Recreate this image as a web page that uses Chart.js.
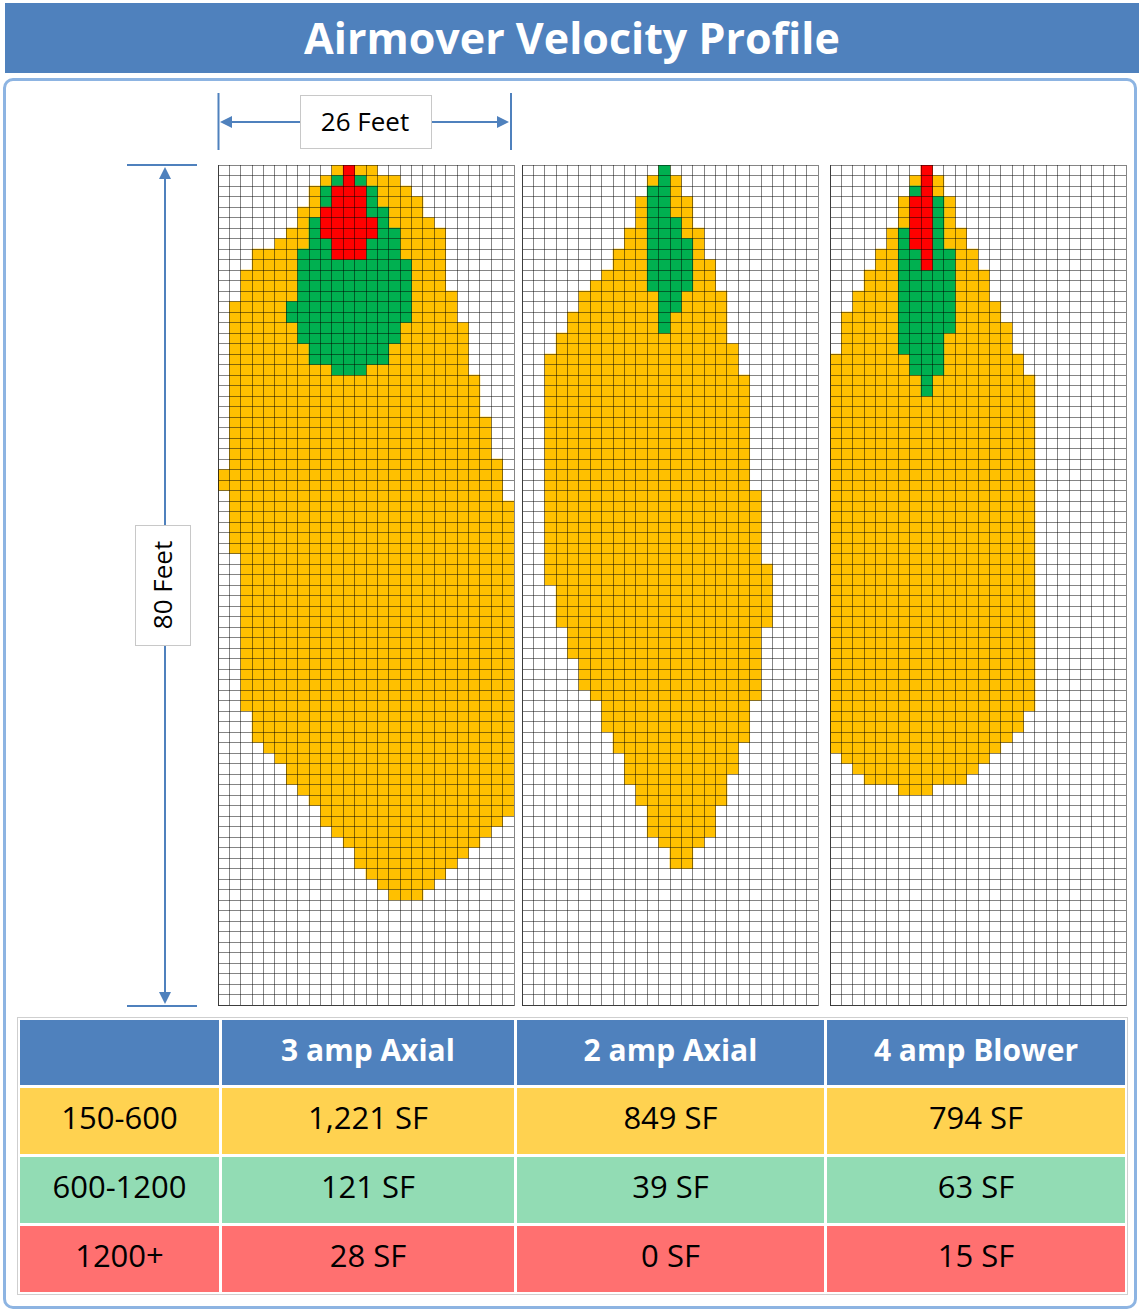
<!DOCTYPE html>
<html>
<head>
<meta charset="utf-8">
<script src="https://cdn.jsdelivr.net/npm/chart.js@4.4.1/dist/chart.umd.min.js"></script>
<style>
  body { margin: 0; width: 1139px; height: 1311px; position: relative; background: #fff; font-family: "Open Sans", Lato, sans-serif; overflow: hidden; }
  .title { position: absolute; left: 5px; top: 3px; width: 1134px; height: 70px; background: #4F81BD; color: #fff; font-weight: bold; font-size: 43px; line-height: 70px; text-align: center; }
  .frame { position: absolute; left: 3px; top: 78px; width: 1134px; height: 1231px; box-sizing: border-box; border: 3px solid #8DB4E2; border-radius: 10px; }
  .panel { position: absolute; top: 165px; width: 297px; height: 841px; }
  .wrap { position: absolute; left: 17px; top: 1017px; border: 1px solid #CFCFCF; padding: 2px; }
  .table { display: grid; grid-template-columns: 199px 292px 307px 298px; grid-template-rows: 65px 66px 66px 66px; gap: 3px; }
  .table div { display: flex; align-items: center; justify-content: center; font-size: 31px; color: #000; box-sizing: border-box; padding-bottom: 8px; }
  .table .hd { background: #4F81BD; color: #fff; font-weight: bold; font-size: 30px; padding-bottom: 6px; }
  .table .r1 { background: #FFD250; }
  .table .r2 { background: #92DCB4; }
  .table .r3 { background: #FF7070; }
  svg { position: absolute; left: 0; top: 0; }
</style>
</head>
<body>
<div class="title">Airmover Velocity Profile</div>
<div class="frame"></div>

<svg width="1139" height="1311">
  <g stroke="#4F81BD" stroke-width="2" fill="#4F81BD">
    <line x1="218.5" y1="93" x2="218.5" y2="150"/>
    <line x1="511" y1="93" x2="511" y2="150"/>
    <line x1="228" y1="122" x2="501" y2="122"/>
    <polygon points="220,122 232,116 232,128" stroke="none"/>
    <polygon points="509,122 497,116 497,128" stroke="none"/>
    <line x1="127" y1="165" x2="197" y2="165"/>
    <line x1="127" y1="1006" x2="197" y2="1006"/>
    <line x1="165" y1="175" x2="165" y2="995"/>
    <polygon points="165,167 159,179 171,179" stroke="none"/>
    <polygon points="165,1004 159,992 171,992" stroke="none"/>
  </g>
  <rect x="300.5" y="95.5" width="131" height="53" fill="#fff" stroke="#C8C8C8"/>
  <text x="365" y="131" text-anchor="middle" font-family="Open Sans" font-size="26" fill="#000">26 Feet</text>
  <rect x="135.5" y="525.5" width="55" height="120" fill="#fff" stroke="#C8C8C8"/>
  <text x="163" y="585" text-anchor="middle" font-family="Open Sans" font-size="26" fill="#000" transform="rotate(-90 163 585)" dy="9">80 Feet</text>
</svg>

<div class="panel" style="left:218px"><canvas id="p1"></canvas></div>
<div class="panel" style="left:522px"><canvas id="p2"></canvas></div>
<div class="panel" style="left:830px"><canvas id="p3"></canvas></div>

<div class="wrap"><div class="table">
  <div class="hd"></div><div class="hd">3 amp Axial</div><div class="hd">2 amp Axial</div><div class="hd">4 amp Blower</div>
  <div class="r1">150-600</div><div class="r1">1,221 SF</div><div class="r1">849 SF</div><div class="r1">794 SF</div>
  <div class="r2">600-1200</div><div class="r2">121 SF</div><div class="r2">39 SF</div><div class="r2">63 SF</div>
  <div class="r3">1200+</div><div class="r3">28 SF</div><div class="r3">0 SF</div><div class="r3">15 SF</div>
</div></div>

<script>
// grid is 26 ft wide x 80 ft long, one cell per square foot
const cols = 26;
const rows = 80;

// spans: [firstRow, lastRow, startCol, endCol)  (rows counted from the airmover end)
const axial3Yellow = [[0,0,10,14],[1,1,9,16],[2,2,8,17],[3,3,8,18],[4,4,7,18],[5,5,7,19],[6,6,6,20],[7,7,5,20],
  [8,9,3,20],[10,11,2,20],[12,12,2,21],[13,14,1,21],[15,19,1,22],[20,23,1,23],[24,27,1,24],[28,28,1,25],
  [29,30,0,25],[31,31,1,25],[32,36,1,26],[37,51,2,26],[52,54,3,26],[55,55,4,26],[56,56,5,26],[57,58,6,26],
  [59,59,7,26],[60,60,8,26],[61,61,9,26],[62,62,9,25],[63,63,10,24],[64,64,11,23],[65,65,12,22],
  [66,66,12,21],[67,67,13,20],[68,68,14,19],[69,69,15,18]];
const axial3Green = [[1,1,10,13],[2,3,9,14],[4,4,9,15],[5,5,8,15],[6,7,8,16],[8,8,7,16],[9,12,7,17],
  [13,14,6,17],[15,16,7,16],[17,18,8,15],[19,19,10,13]];
const axial3Red = [[0,1,11,12],[2,3,10,13],[4,4,9,13],[5,6,9,14],[7,8,10,13]];

const axial2Yellow = [[0,0,12,13],[1,2,11,14],[3,5,10,15],[6,7,9,16],[8,8,8,16],[9,9,8,17],[10,10,7,17],
  [11,11,6,17],[12,13,5,18],[14,15,4,18],[16,16,3,18],[17,17,3,19],[18,19,2,19],[20,30,2,20],[31,37,2,21],
  [38,39,2,22],[40,43,3,22],[44,46,4,21],[47,49,5,21],[50,50,6,21],[51,53,7,20],[54,54,8,20],[55,55,8,19],
  [56,57,9,19],[58,58,9,18],[59,60,10,18],[61,63,11,17],[64,64,12,16],[65,66,13,15]];
const axial2Green = [[0,1,12,13],[2,4,11,13],[5,6,11,14],[7,11,11,15],[12,13,12,14],[14,15,12,13]];
const axial2Red = [];

const blower4Yellow = [[0,0,8,9],[1,2,7,10],[3,5,6,11],[6,7,5,12],[8,9,4,13],[10,11,3,14],[12,12,2,14],
  [13,13,2,15],[14,14,1,15],[15,17,1,16],[18,19,0,17],[20,51,0,18],[52,53,0,17],[54,54,0,16],[55,55,0,15],
  [56,56,1,14],[57,57,2,13],[58,58,3,12],[59,59,6,9]];
const blower4Green = [[2,2,7,9],[3,5,7,10],[6,7,6,10],[8,15,6,11],[16,17,6,10],[18,19,7,10],[20,21,8,9]];
const blower4Red = [[0,2,8,9],[3,7,7,9],[8,9,8,9]];

const rowLabels = [];
for (let i = 0; i < rows; i++) rowLabels.push(String(i));

function expand(spans) {
  const out = new Array(rows).fill(null);
  spans.forEach(function (s) {
    for (let r = s[0]; r <= s[1]; r++) out[r] = [s[2], s[3]];
  });
  return out;
}

function criarPainel(id, yellow, green, red) {
  const base = { grouped: false, barPercentage: 1, categoryPercentage: 1, borderWidth: 0, borderSkipped: false };
  new Chart(document.getElementById(id), {
    type: 'bar',
    data: {
      labels: rowLabels,
      datasets: [
        Object.assign({ label: '150-600', data: expand(yellow), backgroundColor: '#FFC000', order: 3 }, base),
        Object.assign({ label: '600-1200', data: expand(green), backgroundColor: '#00B050', order: 2 }, base),
        Object.assign({ label: '1200+', data: expand(red), backgroundColor: '#FF0000', order: 1 }, base)
      ]
    },
    options: {
      indexAxis: 'y',
      responsive: true,
      maintainAspectRatio: false,
      animation: false,
      layout: { padding: { left: 0, top: 0, right: 1, bottom: 1 } },
      plugins: { legend: { display: false }, tooltip: { enabled: false } },
      scales: {
        x: {
          type: 'linear', min: 0, max: cols,
          ticks: { display: false, stepSize: 1 },
          grid: { color: 'rgba(0,0,0,0.48)', lineWidth: 1, drawTicks: false, z: 1 },
          border: { display: true, color: 'rgba(0,0,0,0.55)', z: 1 }
        },
        y: {
          ticks: { display: false, autoSkip: false },
          grid: { color: 'rgba(0,0,0,0.48)', lineWidth: 1, drawTicks: false, offset: true, z: 1 },
          border: { display: true, color: 'rgba(0,0,0,0.55)', z: 1 }
        }
      }
    }
  });
}

window.onload = function () {
  criarPainel('p1', axial3Yellow, axial3Green, axial3Red);
  criarPainel('p2', axial2Yellow, axial2Green, axial2Red);
  criarPainel('p3', blower4Yellow, blower4Green, blower4Red);
};
</script>
</body>
</html>
